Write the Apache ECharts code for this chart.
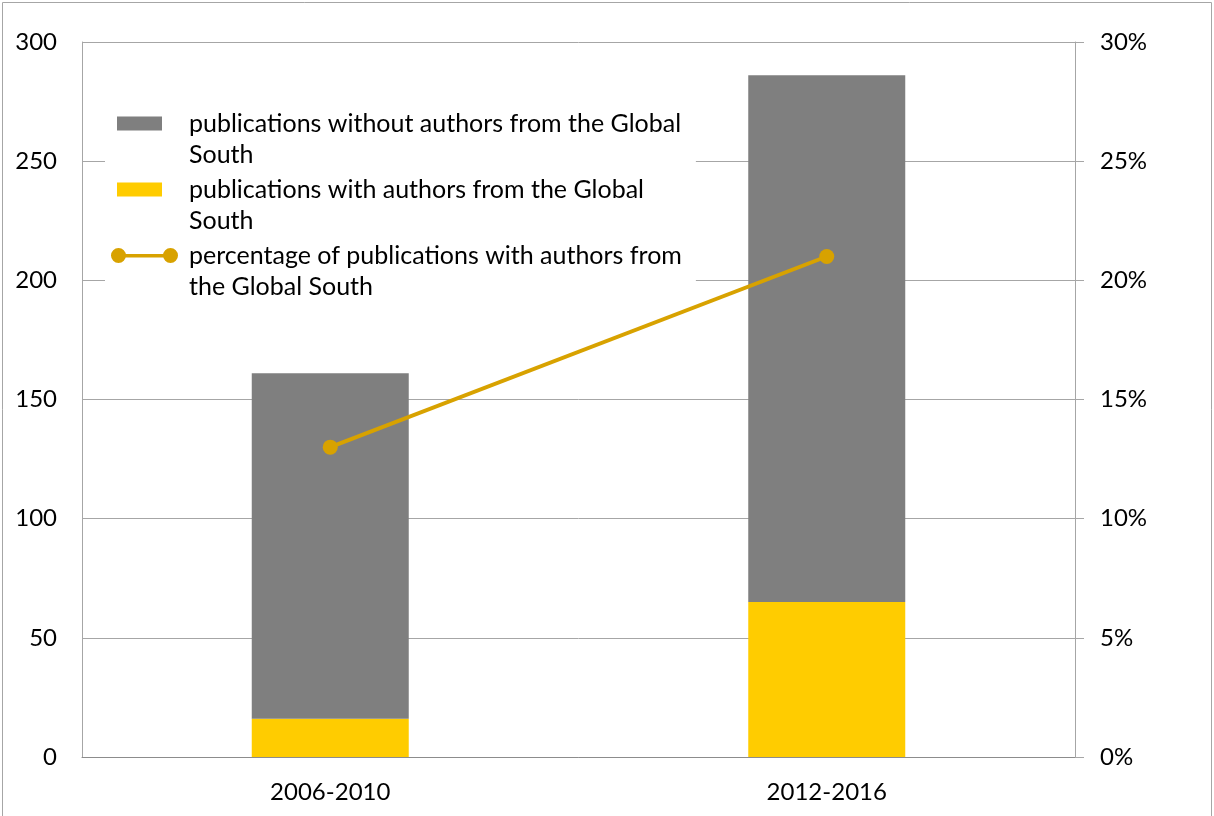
<!DOCTYPE html>
<html>
<head>
<meta charset="utf-8">
<script src="https://cdn.jsdelivr.net/npm/echarts@6/dist/echarts.min.js"></script>
<style>
  html, body { margin: 0; padding: 0; background: #fff; }
  #main { width: 1214px; height: 816px; }
</style>
</head>
<body>
<div id="main"></div>
<script>
// categories and values
const periods = ['2006-2010', '2012-2016']
const withoutSouth = [145, 221] // grey, stacked on top
const withSouth = [16, 65] // yellow, at the bottom
const pctWithSouth = [13, 21] // percent, right axis
const leftTicks = { min: 0, max: 300, interval: 50 }
const rightTicks = { min: 0, max: 30, interval: 5 }

const names = [
  'publications without authors from the Global South',
  'publications with authors from the Global South',
  'percentage of publications with authors from the Global South'
]

const FONT = 'Lato'
const AXIS_GREY = '#a6a6a6'

// break a legend name at the last space that keeps the first line short
function wrap (name, max) {
  if (name.length <= max) return name
  const cut = name.lastIndexOf(' ', max)
  return name.slice(0, cut) + '\n' + name.slice(cut + 1)
}

// legend icons drawn inside a 73x62 box so the mark sits on the first text line
const rectIcon = 'path://M0,0l0.01,0M6,8.5h45v14h-45zM73,62l-0.01,0'
const lineIcon = 'path://M0,0l0.01,0M0,15.5a7.5,7.5 0 1,1 15,0a7.5,7.5 0 1,1 -15,0zM52,15.5a7.5,7.5 0 1,1 15,0a7.5,7.5 0 1,1 -15,0zM7.5,14h52v3.5h-52zM73,62l-0.01,0'

const chart = echarts.init(document.getElementById('main'))
const option = {
  backgroundColor: '#fff',
  animation: false,
  textStyle: { fontFamily: FONT },
  graphic: [{
    type: 'rect',
    shape: { x: 2.5, y: 2.5, width: 1209, height: 830 },
    style: { fill: 'none', stroke: AXIS_GREY, lineWidth: 1 },
    silent: true
  }],
  grid: {
    left: 82,
    right: 139,
    top: 42,
    bottom: 59
  },
  legend: {
    orient: 'vertical',
    left: 105,
    top: 102,
    padding: [6, 14, 6, 6],
    backgroundColor: '#fff',
    itemWidth: 73,
    itemHeight: 62,
    itemGap: 4,
    selectedMode: false,
    formatter: name => wrap(name, 44),
    textStyle: {
      color: '#000',
      fontFamily: FONT,
      fontSize: 25,
      lineHeight: 31
    },
    data: [
      { name: names[0], icon: rectIcon },
      { name: names[1], icon: rectIcon },
      { name: names[2], icon: lineIcon }
    ]
  },
  xAxis: {
    type: 'category',
    data: periods,
    axisTick: { show: false },
    axisLine: { show: true, lineStyle: { color: '#8c8c8c', width: 1 } },
    axisLabel: {
      color: '#000',
      fontFamily: FONT,
      fontSize: 24,
      margin: 23
    }
  },
  yAxis: [{
    type: 'value',
    min: leftTicks.min,
    max: leftTicks.max,
    interval: leftTicks.interval,
    axisLine: { show: true, lineStyle: { color: AXIS_GREY } },
    axisTick: { show: false },
    splitLine: { show: true, lineStyle: { color: AXIS_GREY, width: 1 } },
    axisLabel: {
      color: '#000',
      fontFamily: FONT,
      fontSize: 24,
      margin: 25
    }
  }, {
    type: 'value',
    position: 'right',
    min: rightTicks.min,
    max: rightTicks.max,
    interval: rightTicks.interval,
    axisLine: { show: true, lineStyle: { color: AXIS_GREY } },
    axisTick: { show: true, length: 9, lineStyle: { color: AXIS_GREY } },
    splitLine: { show: false },
    axisLabel: {
      color: '#000',
      fontFamily: FONT,
      fontSize: 24,
      margin: 25,
      formatter: '{value}%'
    }
  }],
  series: [{
    name: names[1],
    type: 'bar',
    stack: 'pubs',
    barWidth: 157,
    itemStyle: { color: '#ffcc00' },
    data: withSouth
  }, {
    name: names[0],
    type: 'bar',
    stack: 'pubs',
    barWidth: 157,
    itemStyle: { color: '#7f7f7f' },
    data: withoutSouth
  }, {
    name: names[2],
    type: 'line',
    yAxisIndex: 1,
    z: 5,
    symbol: 'circle',
    symbolSize: 15,
    itemStyle: { color: '#d8a200', borderWidth: 0 },
    lineStyle: { color: '#d8a200', width: 4 },
    data: pctWithSouth
  }]
}
chart.setOption(option, true)
</script>
</body>
</html>
